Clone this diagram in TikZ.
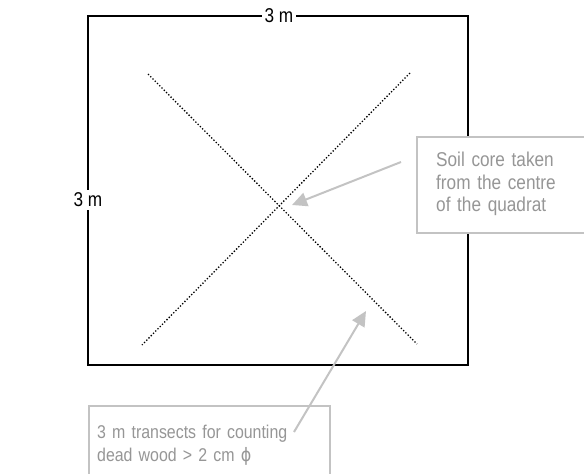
\documentclass[tikz,border=0pt]{standalone}
\usepackage{fontspec}
\setmainfont{Liberation Sans}[FakeStretch=0.86]
\newfontfamily\phifont{DejaVu Sans}[FakeStretch=0.86]
\usetikzlibrary{arrows.meta}
\definecolor{boxgray}{RGB}{195,195,195}
\definecolor{txtgray}{RGB}{150,150,150}
\begin{document}
\begin{tikzpicture}[x=1pt,y=-1pt,
  quad/.style={draw=black,line width=2pt},
  lbl/.style={fill=white,inner sep=3pt,font=\fontsize{20}{22}\selectfont},
  transect/.style={line width=1.3pt,dash pattern=on 1.3pt off 1.9pt},
  boxline/.style={draw=boxgray,line width=1.5pt,fill=white},
  callout/.style={text=txtgray,align=left,
    font=\fontsize{20}{22.5}\selectfont,anchor=north west,inner sep=0pt},
  pointer/.style={draw=boxgray,line width=2pt,-{Triangle[length=15pt,width=14pt]}}]
\useasboundingbox (0,0) rectangle (584,474);
\draw[quad] (88,16) rectangle (468,365);
\node[lbl] (top) at (279,16) {3 m};
\node[lbl] (left) at (88,200) {3 m};
\coordinate (a1) at (148,74);
\coordinate (a2) at (417,344);
\coordinate (b1) at (410,73);
\coordinate (b2) at (142,345);
\draw[transect] (a1) -- (a2);
\draw[transect] (b1) -- (b2);
% soil core box
\draw[boxline] (417,137) rectangle (600,233);
\node[callout,text width=150pt] (soil) at (436,152) {Soil core taken\\from the centre\\of the quadrat};
% transect box
\draw[boxline] (89,406) rectangle (330,490);
\node[callout,text width=230pt,font=\fontsize{18.5}{22.5}\selectfont] (trans) at (97,425) {3 m transects for counting\\dead wood > 2 cm {\phifont ϕ}};
\coordinate (s1) at (401,162);
\coordinate (s2) at (292,205);
\coordinate (t1) at (294,432);
\coordinate (t2) at (366,311);
\draw[pointer] (s1) -- (s2);
\draw[pointer] (t1) -- (t2);
\end{tikzpicture}
\end{document}
